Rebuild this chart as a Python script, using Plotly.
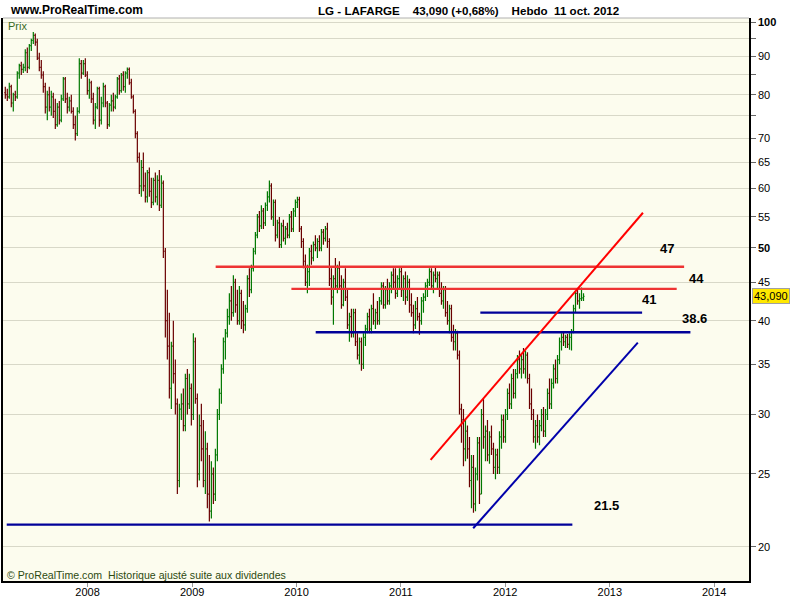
import numpy as np
import pandas as pd
import plotly.graph_objects as go

# ---------------- weekly OHLC data (LG - LAFARGE) ----------------
start_week = "2007-03-19"

opens = [80.5,80,79.5,82,78,80,79.5,85.5,87.5,86.5,
         87,91,87,93,94.5,96,94,89.5,87,85,
         82,77,80,77,79.5,76,73,77,74,79,
         84,79,77,78.5,76,73,71,76,88,85.5,
         88,85,81,83,79,74,77,81.5,74,78,
         82,78,73,77.5,78.5,77,79.5,84,81,85,
         82,85.5,86.5,83,79.5,76,71,66,60.5,64,
         60.5,58.5,63,59.5,57.5,61.5,58.5,61.5,57,61,
         49.5,40,37,32.5,37,34,31,24.5,30.5,31,
         29,33.5,31,32.5,30,37.5,31.5,25,29,27,
         24.5,27,23.5,22.3,25,23.5,26.5,30,32,34.5,
         37.5,38.5,40.5,42.5,41,45,42,40,43.5,40,
         39.5,41.5,45.5,44,47,49.5,52,55,53.5,56,
         54,57,58.5,60.5,55,57.5,52,54,50.5,53.5,
         51.5,53,52,55,53,56,57.5,58,53,51,
         48,45,46.5,49.5,48.5,50.5,50,51,50,52.5,
         51.5,53,51,45.5,43,45.5,44.5,47,44.5,42,
         45,43,39.5,40.5,38.5,41,37.5,36,37.5,35,
         38,39,40.5,39,41.5,40,41,40,42.5,44.5,
         42,44,42.5,44.5,46,45,43.5,45.5,46.5,44,
         45.5,43,45,42,41,39.5,41.5,40.5,40,42.5,
         43,44.5,45,46.5,44.5,46,45.5,46,43.5,42.5,
         44,41,40,41.5,38,37.5,38.5,36,30.5,29.5,
         27,28.5,27,24.5,25.5,22.8,25,27.5,23.5,30,
         28,28.5,26.5,28,27,25.5,26.5,25.5,28,29.5,
         28,30,32,31,33.5,32,34,35.5,34.5,35.5,
         34.5,36,33.5,31,30,28,29,28,29,30,
         28.5,30,32,31,33,34.5,33.5,35.5,37.5,38,
         37.5,38,37.2,38,38.7,41.5,43.5,42.5,42.8,42.9]

highs = [82,81.5,83,82.5,80.5,81,86,88,88.5,88,
         92,92.5,93.5,95,97,96.5,95,91,89,86,
         83,81,82,81,80.5,79,78,78.5,80,84.5,
         84.5,80.5,79.5,80,77,75,77,89.5,89,89,
         89.5,86,84,83.5,80.5,78,82,82,79.5,83,
         82.5,78.5,78,80,80.5,80,84.5,85,85.5,86,
         86,87,87,84,80,76.5,71.5,67,65.5,67,
         63,63.5,64,62,62,63,62.5,63.5,62.5,61.5,
         50,44,41,37.5,40,35.5,31.5,31,32,32.5,
         34,34.5,34,33,38.5,38,32,30,31,29.5,
         28.5,27.5,26.5,26,25.5,27,30.5,32.5,35,38,
         39,41.5,43.5,44.5,46,45.5,44,44.5,44,42.5,
         42,46,47,47.5,50,52.5,55.5,56,57,56.5,
         57.5,59.5,61.5,61,58,58,54.5,55,54,54.5,
         53.5,54,55.5,56,56.5,58,58.5,58.5,53.5,51.5,
         49,47.5,50,50.5,51,52,51.5,52,53,53,
         53.5,54,51.5,47,46,48.5,47.5,48,46,45.5,
         47,44,41,41.5,41.5,41.5,38.5,38,38,38.5,
         39.5,41,41.5,42,43.5,41.5,42.5,43,45,45,
         44.5,45.5,45,46.5,47,47,46,47,47.2,46,
         46.5,46,45.5,43.5,42,42.5,43,41,43,43.5,
         45,45.5,47,47,46.5,47.2,46.5,46.5,45,44.5,
         44.5,42.5,42,42,39.5,39,38.8,36.5,31,30.5,
         29.5,29,28,26.5,26.5,25.5,28,28,30.5,31.5,
         29,29.5,28.5,29,27.5,27,27,28.5,30,30,
         30.5,32.5,33,34,34.5,34.5,36,36.5,36,36.8,
         36.5,36.3,34,32.5,30.5,29.5,30,29.5,30.5,30.7,
         30.5,32.5,33.5,33.5,35,35.5,36,38,38.5,38.6,
         38.3,38.4,38.5,39,42,43.8,44.2,43.5,44.3,43.5]

lows = [79,78.5,79,77,76,78.5,79,84,85,85.5,
        86,85.5,86.5,91.5,93.5,93,89,86,84,80.5,
        75.5,74,76,75,74.5,72,72.5,73,73.5,78.5,
        78,75.5,76,75.5,72,69.5,70.5,75.5,84,85,
        84.5,80,79,78,73,72,76.5,72.5,73,77,
        77,72,72.5,76,76,76.5,79,80,80.5,81,
        80.5,84,82.5,79,75.5,70,65,59,58.5,59.5,
        57.5,57.5,58.5,56.5,57,57.5,57,56,56.5,48.5,
        38,35.5,31.5,30.5,33,30,23.5,24,29.5,28.5,
        28.5,30,30.5,29,29.5,31,24,24.5,26,24,
        23.5,22.5,21.6,21.8,22.8,23,26,29.5,31,34,
        35.5,38,39.5,40,40.5,41,39.5,39.5,39,38.5,
        38.8,41,43,43.5,46.5,49,51.5,52.5,53,53,
        53.5,56,57.5,54.5,53.5,51,51.5,50,50,51,
        50.5,51.5,51.5,52.5,52.5,55,56.5,52.5,50,47,
        44.5,43.5,44.5,47.5,48,49.5,48.5,49.5,49.5,50.5,
        51,50,44.5,42,39.5,44,43.5,44,41.5,41.8,
        42.5,39,37.5,38,38,37,35.5,35,34.3,34.5,
        37,38.5,38.5,38.5,39.5,39,39.5,39.5,42,41.5,
        41.5,42,42,43.5,44,42.8,43,44,43,42.5,
        42,42.5,41,40.5,38.5,39,40,38.3,39.5,41,
        42.5,43,44.5,44,43.5,45,44,43,42,41.5,
        40.5,39.5,38.5,37.5,36.5,36.5,35.5,30,27.5,25.6,
        26,26.2,24,22.5,22.2,22.3,24.5,22.8,23.5,27,
        26,26,25.8,26.5,25,24.6,25,25,27,27.5,
        27.5,29.5,30.5,30.5,31.5,31.5,33.5,34,33.5,34,
        33.5,33,30.5,29.5,27.5,27,27.5,27.3,28.5,28,
        28,29.5,30.5,30.5,32.5,33,33,35,36.5,37,
        36.8,36.8,36.6,36.5,38.5,41,42,41.5,42.5,42.5]

closes = [80,79.5,82,78,80,79.5,85.5,87.5,86.5,87,
          91,87,93,94.5,96,94,89.5,87,85,82,
          77,80,77,79.5,76,73,77,74,79,84,
          79,77,78.5,76,73,71,76,88,85.5,88,
          85,81,83,79,74,77,81.5,74,78,82,
          78,73,77.5,78.5,77,79.5,84,81,85,82,
          85.5,86.5,83,79.5,76,71,66,60.5,64,60.5,
          58.5,63,59.5,57.5,61.5,58.5,61.5,57,61,49.5,
          40,37,32.5,37,34,31,24.5,30.5,31,29,
          33.5,31,32.5,30,37.5,31.5,25,29,27,24.5,
          27,23.5,22.3,25,23.5,26.5,30,32,34.5,37.5,
          38.5,40.5,42.5,41,45,42,40,43.5,40,39.5,
          41.5,45.5,44,47,49.5,52,55,53.5,56,54,
          57,58.5,60.5,55,57.5,52,54,50.5,53.5,51.5,
          53,52,55,53,56,57.5,58,53,51,48,
          45,46.5,49.5,48.5,50.5,50,51,50,52.5,51.5,
          53,51,45.5,43,45.5,44.5,47,44.5,42,45,
          43,39.5,40.5,38.5,41,37.5,36,37.5,35,38,
          39,40.5,39,41.5,40,41,40,42.5,44.5,42,
          44,42.5,44.5,46,45,43.5,45.5,46.5,44,45.5,
          43,45,42,41,39.5,41.5,40.5,40,42.5,43,
          44.5,45,46.5,44.5,46,45.5,46,43.5,42.5,44,
          41,40,41.5,38,37.5,38.5,36,30.5,29.5,27,
          28.5,27,24.5,25.5,22.8,25,27.5,23.5,30,28,
          28.5,26.5,28,27,25.5,26.5,25.5,28,29.5,28,
          30,32,31,33.5,32,34,35.5,34.5,35.5,34.5,
          36,33.5,31,30,28,29,28,29,30,28.5,
          30,32,31,33,34.5,33.5,35.5,37.5,38,37.5,
          38,37.2,38,38.7,41.5,43.5,42.5,42.8,42.9,43.09]

# ---------------- drawn levels / trend lines ----------------
hline_prices = [47.2, 44.1, 41.0, 38.6, 21.4]
hline_start  = ["2009-03-24", "2009-12-14", "2011-10-06", "2010-03-09", "2007-03-24"]
hline_end    = ["2013-09-18", "2013-08-23", "2013-04-24", "2013-10-10", "2012-08-23"]
hline_colors = ["#EE3333", "#EE3333", "#000099", "#000099", "#000099"]

red_trend_dates  = ["2011-04-15", "2013-04-27"]
red_trend_prices = [26.1, 55.7]
blue_trend_dates  = ["2011-09-11", "2013-04-09"]
blue_trend_prices = [21.16, 37.4]

level_labels = ["47", "44", "41", "38.6", "21.5"]
last_price_text = "43,090"
last_price = 43.09

ytick_vals = [20, 25, 30, 35, 40, 45, 50, 55, 60, 65, 70, 75, 80, 85, 90, 95, 100]
ytick_text = ["20", "25", "30", "35", "40", "45", "<b>50</b>", "55", "60", "65", "70", "",
              "80", "", "90", "", "<b>100</b>"]
year_ticks = ["2008-01-01", "2009-01-01", "2010-01-01", "2011-01-01", "2012-01-01",
              "2013-01-01", "2014-01-01"]
year_labels = ["2008", "2009", "2010", "2011", "2012", "2013", "2014"]

dates = pd.date_range(start_week, periods=len(closes), freq="7D")

fig = go.Figure()
fig.add_trace(go.Ohlc(
    x=dates, open=opens, high=highs, low=lows, close=closes,
    increasing=dict(line=dict(color="#007800", width=1.2)),
    decreasing=dict(line=dict(color="#6A0000", width=1.2)),
    tickwidth=0.5, hoverinfo="skip", showlegend=False))

for p, s, e, c in zip(hline_prices, hline_start, hline_end, hline_colors):
    fig.add_trace(go.Scatter(x=[s, e], y=[p, p], mode="lines",
                             line=dict(color=c, width=2.4),
                             hoverinfo="skip", showlegend=False))

fig.add_trace(go.Scatter(x=red_trend_dates, y=red_trend_prices, mode="lines",
                         line=dict(color="#FF0000", width=2), hoverinfo="skip",
                         showlegend=False))
fig.add_trace(go.Scatter(x=blue_trend_dates, y=blue_trend_prices, mode="lines",
                         line=dict(color="#0000AA", width=2), hoverinfo="skip",
                         showlegend=False))

# pixel -> paper helpers for text placement
PL, PR, PT, PB = 3, 749, 18, 581
def px(x):
    return (x - PL) / (PR - PL)
def py(y):
    return (PB - y) / (PB - PT)

label_pos = [(666.5, 248), (696.5, 278.5), (648.5, 299.5), (694.5, 318.5), (606.5, 505)]
annotations = []
for t, (ax, ay) in zip(level_labels, label_pos):
    annotations.append(dict(text="<b>%s</b>" % t, x=px(ax), y=py(ay), xref="paper",
                            yref="paper", showarrow=False, xanchor="center",
                            yanchor="middle",
                            font=dict(family="Liberation Sans, Arial", size=13,
                                      color="black")))

annotations.append(dict(text="<b>www.ProRealTime.com</b>", x=px(8), y=py(10),
                        xref="paper", yref="paper", showarrow=False, xanchor="left",
                        yanchor="middle",
                        font=dict(family="Liberation Sans, Arial", size=12,
                                  color="black")))
annotations.append(dict(text="<b>LG - LAFARGE\u00a0\u00a0\u00a0\u00a043,090 (+0,68%)\u00a0\u00a0\u00a0\u00a0Hebdo\u00a0\u00a011 oct. 2012</b>",
                        x=px(316), y=py(10), xref="paper", yref="paper", showarrow=False,
                        xanchor="left", yanchor="middle",
                        font=dict(family="Liberation Sans, Arial", size=11.6,
                                  color="black")))
annotations.append(dict(text="Prix", x=px(6), y=py(26), xref="paper", yref="paper",
                        showarrow=False, xanchor="left", yanchor="middle",
                        font=dict(family="Liberation Sans, Arial", size=11,
                                  color="#3A6B1E")))
annotations.append(dict(text="© ProRealTime.com  Historique ajusté suite aux dividendes",
                        x=px(5), y=py(575), xref="paper", yref="paper", showarrow=False,
                        xanchor="left", yanchor="middle",
                        font=dict(family="Liberation Sans, Arial", size=10.6,
                                  color="#2E4A10")))
annotations.append(dict(text=last_price_text, x=1, xshift=3, y=np.log10(last_price),
                        xref="paper", yref="y", showarrow=False, xanchor="left",
                        yanchor="middle", bgcolor="#FFE800", bordercolor="#A0A0A0",
                        borderwidth=1, borderpad=1,
                        font=dict(family="Liberation Sans, Arial", size=11, color="black")))

fig.update_layout(
    width=800, height=600,
    margin=dict(l=PL, r=800 - PR, t=PT, b=600 - PB, autoexpand=False),
    paper_bgcolor="white", plot_bgcolor="#FCFCEE",
    showlegend=False,
    annotations=annotations,
    shapes=[dict(type="line", xref="paper", yref="paper", x0=0, x1=1, y0=1, y1=1,
                 line=dict(color="#B0B0B0", width=1))],
    xaxis=dict(type="date", range=["2007-03-11", "2014-05-03"],
               tickvals=year_ticks, ticktext=year_labels, automargin=False,
               ticks="outside", ticklen=4, tickcolor="#999999",
               ticklabelstandoff=-4,
               showgrid=False, zeroline=False, showline=True, linecolor="black",
               linewidth=1.5, rangeslider=dict(visible=False),
               tickfont=dict(family="Liberation Sans, Arial", size=11, color="black")),
    yaxis=dict(type="log", side="right", automargin=False,
               range=[np.log10(18.0), 2.00533],
               tickvals=ytick_vals, ticktext=ytick_text,
               ticks="outside", ticklen=5, tickcolor="#666666",
               showgrid=True, gridcolor="#D8D8C8", gridwidth=1,
               zeroline=False, showline=True, mirror=True, linecolor="black",
               linewidth=1.5,
               tickfont=dict(family="Liberation Sans, Arial", size=11, color="black")),
)

fig.write_html("out.html", config={"displayModeBar": False},
               post_script="document.body.style.margin='0';document.body.style.overflow='hidden';")
